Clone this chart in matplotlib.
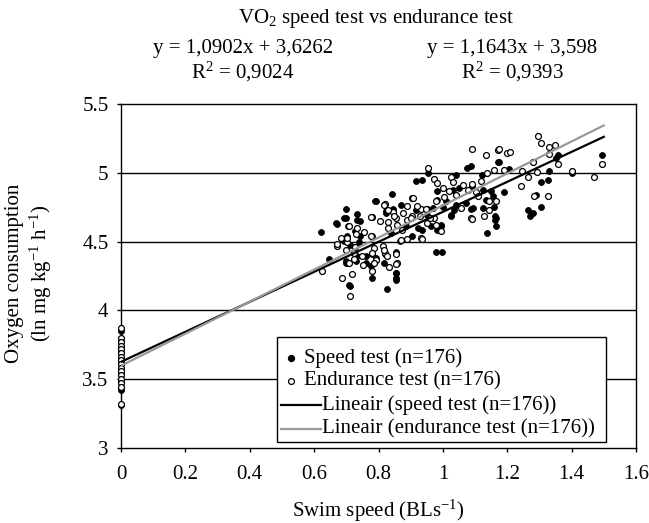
import matplotlib
matplotlib.use("Agg")
import matplotlib.pyplot as plt
from matplotlib.patches import Rectangle

plt.rcParams['font.family'] = ['Liberation Serif', 'DejaVu Serif']
plt.rcParams['mathtext.fontset'] = 'custom'
plt.rcParams['mathtext.rm'] = 'Liberation Serif'
plt.rcParams['mathtext.it'] = 'Liberation Serif:italic'
FS = 15
plt.rcParams['font.size'] = FS

# ---- data: speed test (filled) ----
speed_x = [0, 0, 0, 0, 0, 0, 0, 0,
    0.841, 0.789, 0.700, 0.732, 0.824, 0.846, 0.871, 0.694, 0.669, 0.706,
    0.742, 0.822, 0.620, 0.727, 0.703, 0.781, 0.739, 0.646, 0.698, 0.729,
    0.760, 0.779, 0.820, 0.854, 0.776, 0.781, 0.854, 0.854, 0.713, 0.827,
    0.698, 0.670, 0.708, 0.791, 0.905, 0.923, 0.950, 0.867,
    0.693, 0.713, 0.744, 0.838, 0.962, 0.994, 1.025, 0.698, 0.734, 0.760,
    0.791, 0.817, 0.853, 0.853, 0.734,
    1.087, 1.075, 1.170, 0.916, 0.934, 0.955, 1.040, 1.121, 0.981, 1.030,
    1.051, 1.092, 1.124, 1.150, 0.983, 1.009, 1.040, 1.072, 1.134, 1.155,
    0.916, 0.968, 0.999, 1.035, 1.087, 1.124, 1.160, 1.025, 0.994, 1.165,
    1.165, 0.885, 1.137, 0.978, 0.997, 0.936, 0.983,
    1.163, 1.163, 1.093, 1.264, 1.270, 1.281, 1.305, 1.173, 1.205, 1.279,
    1.357, 1.350, 1.495, 1.329, 1.401, 1.305, 1.328, 1.189, 1.290]
speed_y = [3.85, 3.78, 3.70, 3.62, 3.55, 3.48, 3.42, 3.31,
    4.846, 4.797, 4.739, 4.700, 4.725, 4.737, 4.763, 4.672, 4.635, 4.611,
    4.647, 4.708, 4.567, 4.575, 4.538, 4.543, 4.495, 4.377, 4.346, 4.358,
    4.394, 4.411, 4.411, 4.423, 4.321, 4.237, 4.273, 4.237, 4.176, 4.152,
    4.672, 4.631, 4.185, 4.794, 4.539, 4.600, 4.690, 4.502,
    4.502, 4.478, 4.538, 4.563, 4.611, 4.623, 4.696, 4.357, 4.393, 4.345,
    4.381, 4.345, 4.272, 4.224, 4.660,
    5.046, 5.034, 5.075, 4.944, 4.949, 5.002, 4.986, 4.986, 4.870, 4.877,
    4.889, 4.901, 4.877, 4.865, 4.804, 4.792, 4.768, 4.780, 4.804, 4.828,
    4.732, 4.744, 4.751, 4.732, 4.737, 4.744, 4.751, 4.683, 4.611, 4.671,
    4.611, 4.611, 4.563, 4.428, 4.428, 4.587, 4.587,
    4.688, 4.654, 4.741, 4.732, 4.688, 4.707, 4.748, 5.077, 5.027, 5.082,
    5.130, 5.106, 5.130, 5.010, 4.998, 4.930, 4.949, 4.858, 4.840]

# ---- data: endurance test (open) ----
endur_x = [0] * 16 + [
    0.819, 0.845, 0.875, 0.779, 0.804, 0.829, 0.854, 0.708, 0.734, 0.755,
    0.682, 0.703, 0.672, 0.727, 0.698, 0.815, 0.786, 0.819, 0.825, 0.791,
    0.833, 0.856, 0.752, 0.724, 0.708, 0.623, 0.687, 0.718, 0.779, 0.711,
    0.869, 0.670, 0.778, 0.817, 0.905, 0.931, 0.952, 0.978, 0.994, 0.853,
    0.853, 0.932,
    0.703, 0.729, 0.776, 0.828, 0.859, 0.874, 0.890, 0.905, 0.952, 0.973,
    0.724, 0.750, 0.781, 0.817, 0.786, 0.828, 0.848,
    1.090, 1.134, 1.170, 0.955, 0.971, 1.025, 0.983, 1.030, 0.999, 1.018,
    1.062, 1.090, 1.118, 1.137, 1.158, 0.906, 0.890, 0.919, 0.947, 0.978,
    1.004, 1.040, 1.077, 1.103, 1.142, 1.108, 0.900, 0.929, 0.960, 1.056,
    1.087, 1.129, 1.143, 0.890, 0.934, 1.092, 1.328, 1.282,
    1.295, 1.305, 1.329, 1.349, 1.331, 1.173, 1.198, 1.209, 1.281, 1.359,
    1.191, 1.246, 1.264, 1.292, 1.401, 1.468, 1.494, 1.243, 1.165]
endur_y = [3.87, 3.80, 3.77, 3.74, 3.72, 3.69, 3.66, 3.64, 3.61, 3.58,
    3.56, 3.53, 3.50, 3.47, 3.44, 3.32,
    4.773, 4.713, 4.708, 4.676, 4.647, 4.640, 4.672, 4.611, 4.599, 4.567,
    4.527, 4.498, 4.471, 4.459, 4.442, 4.471, 4.450, 4.418, 4.394, 4.363,
    4.317, 4.346, 4.327, 4.370, 4.341, 4.286, 4.232, 4.261, 4.286, 4.104,
    4.515, 4.480, 4.679, 4.768, 4.817, 4.737, 4.737, 4.623, 4.575, 4.413,
    4.340, 4.527,
    4.526, 4.558, 4.538, 4.599, 4.623, 4.587, 4.660, 4.684, 4.635, 4.672,
    4.418, 4.393, 4.418, 4.442, 4.345, 4.732, 4.689,
    5.172, 5.131, 5.167, 5.034, 4.954, 4.969, 4.925, 4.930, 4.889, 4.865,
    4.913, 4.920, 4.937, 4.998, 5.022, 4.816, 4.761, 4.761, 4.737, 4.792,
    4.824, 4.840, 4.877, 4.858, 4.792, 4.828, 4.671, 4.683, 4.671, 4.744,
    4.671, 4.683, 4.732, 4.522, 4.522, 4.666, 4.828, 4.830,
    5.270, 5.220, 5.191, 5.201, 5.138, 5.172, 5.143, 5.150, 5.075, 5.063,
    5.022, 5.010, 4.969, 5.003, 5.010, 4.973, 5.063, 4.901, 4.792]

# regression coefficients (slope, intercept)
speed_fit = [1.0902, 3.6262]
endur_fit = [1.1643, 3.598]
fit_x = [0, 1.5]

x_ticks = [0, 0.2, 0.4, 0.6, 0.8, 1, 1.2, 1.4, 1.6]
x_labels = ['0', '0.2', '0.4', '0.6', '0.8', '1', '1.2', '1.4', '1.6']
y_ticks = [3, 3.5, 4, 4.5, 5, 5.5]
y_labels = ['3', '3.5', '4', '4.5', '5', '5.5']
legend_labels = ['Speed test (n=176)', 'Endurance test (n=176)',
                 'Lineair (speed test (n=176))', 'Lineair (endurance test (n=176))']

W, H = 649, 523
fig = plt.figure(figsize=(W / 100, H / 100), dpi=100)
ax = fig.add_axes([121 / W, 1 - 448 / H, 515 / W, 344 / H])

for v in [3.5, 4, 4.5, 5]:
    ax.axhline(v, color='black', lw=1.0, zorder=1)

ax.scatter(speed_x, speed_y, s=18, color='black', edgecolors='black',
           linewidths=0.6, zorder=3, clip_on=False)
ax.scatter(endur_x, endur_y, s=18, facecolors='white', edgecolors='black',
           linewidths=0.9, zorder=4, clip_on=False)

sy = [speed_fit[0] * x + speed_fit[1] for x in fit_x]
ey = [endur_fit[0] * x + endur_fit[1] for x in fit_x]
ax.plot(fit_x, sy, color='black', lw=1.6, zorder=5)
ax.plot(fit_x, ey, color='#999999', lw=1.6, zorder=6)

ax.set_xlim(0, 1.6)
ax.set_ylim(3, 5.5)
ax.set_xticks(x_ticks)
ax.set_xticklabels(x_labels)
ax.set_yticks(y_ticks)
ax.set_yticklabels(y_labels)
ax.tick_params(direction='out', length=3, width=1, labelsize=FS)
ax.tick_params(axis='y', pad=6)
ax.tick_params(axis='x', pad=9)
for s in ax.spines.values():
    s.set_linewidth(1.0)
    s.set_color('black')

fig.text(378 / W, 1 - 511 / H, 'Swim speed (BLs$\\mathregular{^{-1}}$)',
         ha='center', va='center', fontsize=FS)
fig.text(30 / W, 1 - 273 / H,
         'Oxygen consumption\n(ln mg kg$\\mathregular{^{-1}}$ h$\\mathregular{^{-1}}$)',
         ha='center', va='center', rotation=90, fontsize=FS, linespacing=1.2,
         multialignment='center')

fig.text(376 / W, 1 - 19 / H, 'VO$\\mathregular{_2}$ speed test vs endurance test',
         ha='center', va='center', fontsize=FS)
fig.text(243 / W, 1 - 48 / H, 'y = 1,0902x + 3,6262', ha='center', va='center', fontsize=FS)
fig.text(243 / W, 1 - 72 / H, 'R$\\mathregular{^2}$ = 0,9024', ha='center', va='center', fontsize=FS)
fig.text(512 / W, 1 - 48 / H, 'y = 1,1643x + 3,598', ha='center', va='center', fontsize=FS)
fig.text(512 / W, 1 - 72 / H, 'R$\\mathregular{^2}$ = 0,9393', ha='center', va='center', fontsize=FS)

# manual legend (Excel style)
def ax_x(px):
    return (px - 121) / 515

def ax_y(py):
    return (448 - py) / 344

ax.add_patch(Rectangle((ax_x(277), ax_y(442)), ax_x(606) - ax_x(277),
                       ax_y(337) - ax_y(442), transform=ax.transAxes,
                       facecolor='white', edgecolor='black', lw=1.0,
                       zorder=10, clip_on=False))
rows = [358, 381, 405, 429]
ax.scatter([ax_x(291)], [ax_y(rows[0])], s=18, color='black',
           transform=ax.transAxes, zorder=11, clip_on=False)
ax.scatter([ax_x(291)], [ax_y(rows[1])], s=18, facecolors='white',
           edgecolors='black', linewidths=0.9, transform=ax.transAxes,
           zorder=11, clip_on=False)
ax.plot([ax_x(281), ax_x(321)], [ax_y(rows[2])] * 2, color='black', lw=1.6,
        transform=ax.transAxes, zorder=11, clip_on=False)
ax.plot([ax_x(281), ax_x(321)], [ax_y(rows[3])] * 2, color='#999999', lw=1.6,
        transform=ax.transAxes, zorder=11, clip_on=False)
text_x = [304, 304, 322, 322]
for lab, r, tx in zip(legend_labels, rows, text_x):
    ax.text(ax_x(tx), ax_y(r), lab, transform=ax.transAxes, ha='left',
            va='center', fontsize=FS, zorder=12)

fig.savefig('out.png', dpi=100)
